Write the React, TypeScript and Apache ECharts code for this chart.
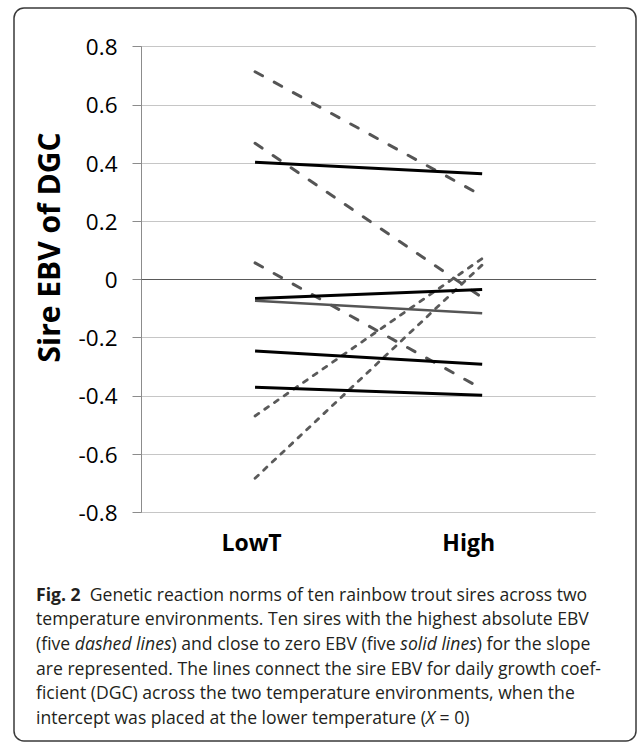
import React, { useEffect, useRef } from "react";
import * as echarts from "echarts";

const categories = ["LowT", "High"];
const yTickLabels = ["-0.8", "-0.6", "-0.4", "-0.2", "0", "0.2", "0.4", "0.6", "0.8"];

// dashed sires (largest absolute slope EBV)
const dashed1 = [0.714, 0.288];
const dashed2 = [0.468, -0.062];
const dashed3 = [0.057, -0.376];
const dashed4 = [-0.469, 0.072];
const dashed5 = [-0.683, 0.05];
// solid sires (slope EBV close to zero)
const solid1 = [0.403, 0.363];
const solid2 = [-0.065, -0.034];
const solid3 = [-0.073, -0.116];
const solid4 = [-0.246, -0.291];
const solid5 = [-0.37, -0.398];

const yAxisTitle = "Sire EBV of DGC";
const captionLines = [
  "{b|Fig. 2}  Genetic reaction norms of ten rainbow trout sires across two",
  "temperature environments. Ten sires with the highest absolute EBV",
  "(five {i|dashed lines}) and close to zero EBV (five {i|solid lines}) for the slope",
  "are represented. The lines connect the sire EBV for daily growth coef-",
  "ficient (DGC) across the two temperature environments, when the",
  "intercept was placed at the lower temperature ({i|X} = 0)",
];

export default function App() {
  const ref = useRef<HTMLDivElement>(null);
  useEffect(() => {
    if (!ref.current) return;
    const chart = echarts.init(ref.current, undefined, { renderer: "svg" });
    const longDash = (name: string, data: number[]) => ({
      name,
      type: "line",
      data,
      symbol: "none",
      lineStyle: { color: "#555555", width: 3, type: [8.5, 13.3], cap: "round" },
      z: 2,
    });
    const shortDash = (name: string, data: number[]) => ({
      name,
      type: "line",
      data,
      symbol: "none",
      lineStyle: { color: "#5a5a5a", width: 2.8, type: [4.5, 7.3], cap: "round" },
      z: 2,
    });
    const solid = (name: string, data: number[], color: string, width: number) => ({
      name,
      type: "line",
      data,
      symbol: "none",
      lineStyle: { color, width, type: "solid" },
      z: 3,
    });
    const capSize = 17.6;
    const captionGraphics = captionLines.map((line, i) => ({
      type: "text",
      x: 36,
      y: 593.5 + i * 24.7,
      style: {
        text: line,
        fontFamily: "Open Sans",
        fontSize: capSize,
        fill: "#231f20",
        verticalAlign: "middle",
        align: "left",
        rich: {
          b: { fontFamily: "Open Sans", fontSize: capSize, fontWeight: "bold", fill: "#231f20", color: "#231f20" },
          i: { fontFamily: "Open Sans", fontSize: capSize, fontStyle: "italic", fill: "#231f20", color: "#231f20" },
        },
      },
    }));
    chart.setOption({
      animation: false,
      backgroundColor: "#ffffff",
      grid: {
        left: 141.5,
        right: 41.3,
        top: 46.7,
        bottom: 230.7,
        containLabel: false,
        outerBoundsMode: "none",
      },
      xAxis: {
        type: "category",
        data: categories,
        boundaryGap: true,
        axisLine: { show: true, lineStyle: { color: "#595959", width: 1.2 } },
        axisTick: { show: false },
        splitLine: { show: false },
        axisLabel: {
          margin: 18,
          fontFamily: "Open Sans",
          fontWeight: "bold",
          fontSize: 23,
          color: "#000000",
          formatter: (v: string) => (v === "High" ? `{h|${v}}` : `{l|${v}}`),
          rich: {
            l: { fontFamily: "Open Sans", fontWeight: "bold", fontSize: 23, color: "#000", padding: [0, 7, 0, 0] },
            h: { fontFamily: "Open Sans", fontWeight: "bold", fontSize: 23, color: "#000", padding: [0, 27, 0, 0] },
          },
        },
      },
      yAxis: {
        type: "value",
        min: -0.8,
        max: 0.8,
        interval: 0.2,
        axisLine: { show: true, lineStyle: { color: "#8c8c8c", width: 1 } },
        axisTick: { show: true, length: 9, lineStyle: { color: "#8c8c8c", width: 1 } },
        splitLine: { show: true, lineStyle: { color: "#c6c6c6", width: 1 } },
        axisLabel: {
          margin: 24,
          fontFamily: "Open Sans",
          fontSize: 22.5,
          color: "#000000",
          formatter: (v: number) => {
            const idx = Math.round((v + 0.8) / 0.2);
            return yTickLabels[idx] ?? String(v);
          },
        },
      },
      series: [
        longDash("Sire D1", dashed1),
        longDash("Sire D2", dashed2),
        longDash("Sire D3", dashed3),
        shortDash("Sire D4", dashed4),
        shortDash("Sire D5", dashed5),
        solid("Sire S1", solid1, "#000000", 3),
        solid("Sire S2", solid2, "#000000", 3),
        solid("Sire S3", solid3, "#555555", 2.7),
        solid("Sire S4", solid4, "#000000", 3),
        solid("Sire S5", solid5, "#000000", 3),
      ],
      graphic: [
        {
          type: "rect",
          shape: { x: 14, y: 8, width: 622, height: 733, r: 10 },
          style: { fill: "none", stroke: "#3a3a3a", lineWidth: 1.5 },
          silent: true,
        },
        {
          type: "text",
          x: 48.5,
          y: 247.5,
          rotation: Math.PI / 2,
          style: {
            text: yAxisTitle,
            fontFamily: "Open Sans",
            fontWeight: "bold",
            fontSize: 30,
            fill: "#000000",
            align: "center",
            verticalAlign: "middle",
          },
        },
        ...captionGraphics,
      ],
    });
    return () => chart.dispose();
  }, []);
  return (
    <div
      ref={ref}
      style={{ position: "absolute", left: 0, top: 0, width: 637, height: 743, background: "#fff" }}
    />
  );
}
